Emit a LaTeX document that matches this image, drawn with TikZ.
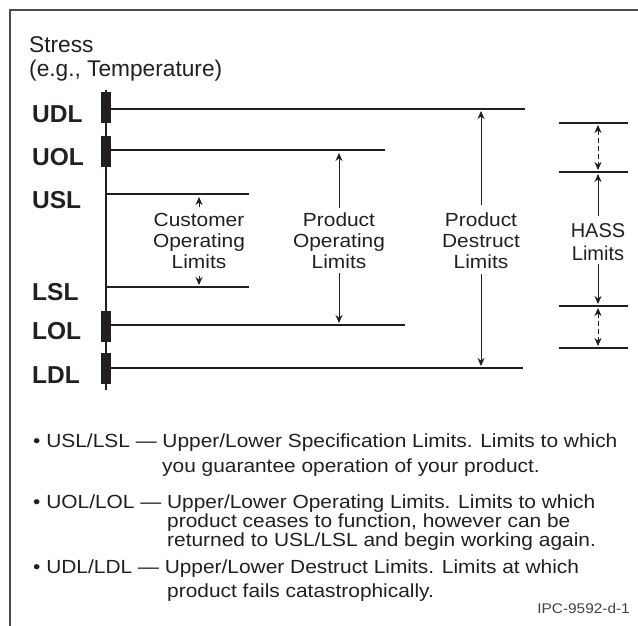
\documentclass[tikz,border=0pt]{standalone}
\usepackage{fontspec}
\setmainfont{Liberation Sans}
\newfontfamily\stretchfont[FakeStretch=1.1]{Liberation Sans}
\usetikzlibrary{arrows.meta}
\definecolor{ink}{HTML}{231F20}
\begin{document}
\begin{tikzpicture}[x=1pt,y=-1pt,
  frameline/.style={draw=black!70, line width=1.6pt},
  axisline/.style={draw=ink, line width=2pt},
  barbox/.style={fill=ink, draw=none, inner sep=0, minimum width=10pt, minimum height=31pt},
  limitline/.style={draw=ink, line width=2pt},
  hassline/.style={draw=ink, line width=1.8pt},
  arr/.style={draw=ink, line width=0.9pt, -{Stealth[length=8pt,width=7pt]}},
  dblarr/.style={draw=ink, line width=0.9pt, dash pattern=on 5pt off 3pt,
     {Stealth[length=8pt,width=7pt]}-{Stealth[length=8pt,width=7pt]}},
  lbl/.style={font=\bfseries\fontsize{24.5}{24.5}\selectfont, anchor=base west, inner sep=0, text=ink},
  midlbl/.style={font=\stretchfont\fontsize{19}{21}\selectfont, align=center, inner sep=0, text=ink, anchor=base},
  hasslbl/.style={font=\fontsize{20}{23}\selectfont, align=center, inner sep=0, text=ink, anchor=base},
  ttl/.style={font=\fontsize{22.7}{23.5}\selectfont, anchor=base west, inner sep=0, text=ink},
  note/.style={font=\stretchfont\fontsize{19}{19}\selectfont, anchor=base west, inner sep=0, text=ink},
  ref/.style={font=\stretchfont\fontsize{14}{14}\selectfont, anchor=base east, inner sep=0, text=ink!85}
]
\useasboundingbox (0,0) rectangle (638,626);
% frame
\draw[frameline] (10,626) -- (10,10) -- (638,10);
% title
\node[ttl] (stress) at (29,53) {Stress};
\node[ttl] (eg) at (29,76.5) {(e.g., Temperature)};
% axis
\coordinate (axtop) at (106,90);
\coordinate (axbot) at (106,390);
\draw[axisline] (axtop) -- (axbot);
% bars
\node[barbox] (udlbar) at (106,108) {};
\node[barbox] (uolbar) at (106,151.5) {};
\node[barbox] (lolbar) at (106,326) {};
\node[barbox] (ldlbar) at (106,368) {};
% limit lines
\coordinate (udlL) at (106,109); \coordinate (udlR) at (525,109);
\coordinate (uolL) at (106,150); \coordinate (uolR) at (385,150);
\coordinate (uslL) at (106,194); \coordinate (uslR) at (249,194);
\coordinate (lslL) at (106,287); \coordinate (lslR) at (249,287);
\coordinate (lolL) at (106,325); \coordinate (lolR) at (405,325);
\coordinate (ldlL) at (106,368); \coordinate (ldlR) at (523,368);
\draw[limitline] (udlL) -- (udlR);
\draw[limitline] (uolL) -- (uolR);
\draw[limitline] (uslL) -- (uslR);
\draw[limitline] (lslL) -- (lslR);
\draw[limitline] (lolL) -- (lolR);
\draw[limitline] (ldlL) -- (ldlR);
% left labels
\node[lbl] (udl) at (32,122) {UDL};
\node[lbl] (uol) at (32,165) {UOL};
\node[lbl] (usl) at (32,208) {USL};
\node[lbl] (lsl) at (32,300) {LSL};
\node[lbl] (lol) at (32,339) {LOL};
\node[lbl] (ldl) at (32,383) {LDL};
% customer operating limits
\node[midlbl] (col) at (199,268) {Customer\\Operating\\Limits};
\coordinate (colA) at (199,207); \coordinate (colAt) at (199,197);
\coordinate (colB) at (199,276); \coordinate (colBt) at (199,285);
\draw[arr] (colA) -- (colAt);
\draw[arr] (colB) -- (colBt);
% product operating limits
\node[midlbl] (pol) at (339,268) {Product\\Operating\\Limits};
\coordinate (polA) at (339,208); \coordinate (polAt) at (339,153);
\coordinate (polB) at (339,273); \coordinate (polBt) at (339,323);
\draw[arr] (polA) -- (polAt);
\draw[arr] (polB) -- (polBt);
% product destruct limits
\node[midlbl] (pdl) at (481,268) {Product\\Destruct\\Limits};
\coordinate (pdlA) at (481,205); \coordinate (pdlAt) at (481,111);
\coordinate (pdlB) at (481,274); \coordinate (pdlBt) at (481,366);
\draw[arr] (pdlA) -- (pdlAt);
\draw[arr] (pdlB) -- (pdlBt);
% HASS
\coordinate (h1L) at (559,123); \coordinate (h1R) at (628,123);
\coordinate (h2L) at (559,172); \coordinate (h2R) at (628,172);
\coordinate (h3L) at (559,306); \coordinate (h3R) at (628,306);
\coordinate (h4L) at (559,348); \coordinate (h4R) at (628,348);
\draw[hassline] (h1L) -- (h1R);
\draw[hassline] (h2L) -- (h2R);
\draw[hassline] (h3L) -- (h3R);
\draw[hassline] (h4L) -- (h4R);
\node[hasslbl] (hass) at (598,260) {HASS\\Limits};
\coordinate (hd1a) at (598,125); \coordinate (hd1b) at (598,170);
\coordinate (hd2a) at (598,308); \coordinate (hd2b) at (598,346);
\draw[dblarr] (hd1a) -- (hd1b);
\draw[dblarr] (hd2a) -- (hd2b);
\coordinate (hA) at (598,216); \coordinate (hAt) at (598,174);
\coordinate (hB) at (598,264); \coordinate (hBt) at (598,304);
\draw[arr] (hA) -- (hAt);
\draw[arr] (hB) -- (hBt);
% notes
\node[note] (n1) at (33,447) {• USL/LSL — Upper/Lower Specification Limits. Limits to which};
\node[note] (n2) at (162,472) {you guarantee operation of your product.};
\node[note] (n3) at (33,508) {• UOL/LOL — Upper/Lower Operating Limits. Limits to which};
\node[note] (n4) at (167,527) {product ceases to function, however can be};
\node[note] (n5) at (167,546) {returned to USL/LSL and begin working again.};
\node[note] (n6) at (33,573) {• UDL/LDL — Upper/Lower Destruct Limits. Limits at which};
\node[note] (n7) at (167,597) {product fails catastrophically.};
\node[ref] (ipc) at (630,613) {IPC-9592-d-1};
\end{tikzpicture}
\end{document}
